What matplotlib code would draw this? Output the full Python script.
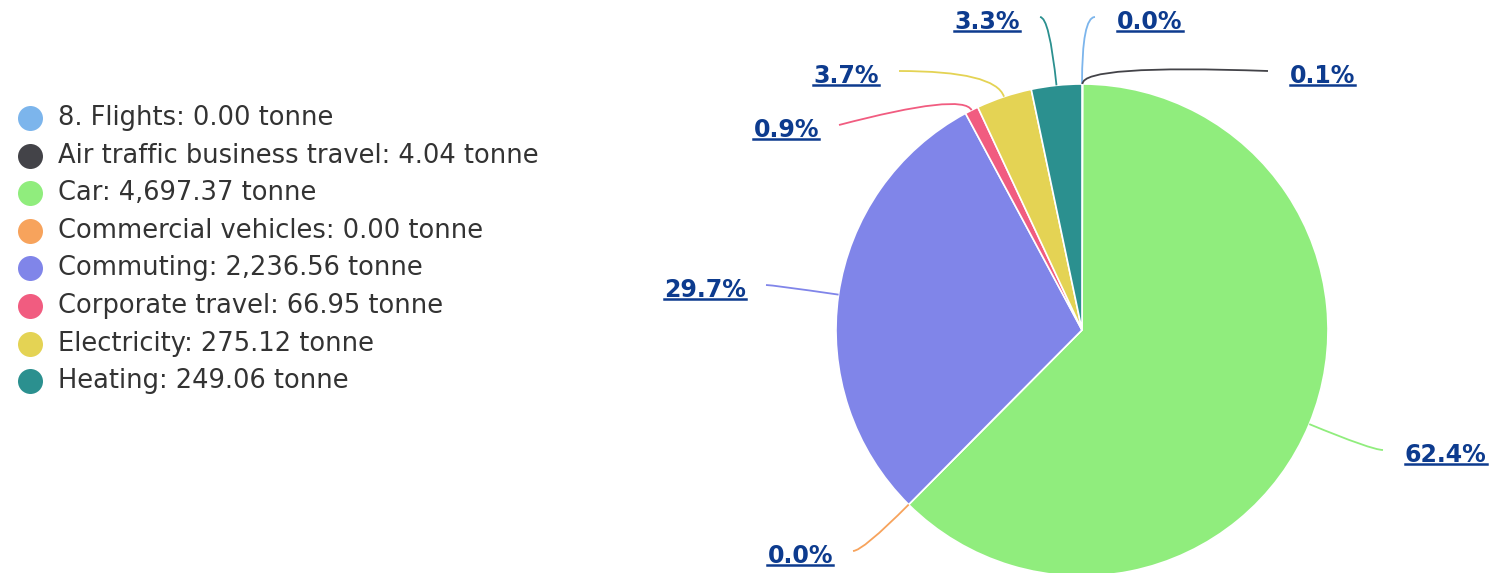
import matplotlib
matplotlib.use('Agg')
import matplotlib.pyplot as plt
import numpy as np
from matplotlib.path import Path
from matplotlib.patches import PathPatch
from matplotlib.lines import Line2D

plt.rcParams['font.family'] = 'DejaVu Sans'

# Data (tonne)
categories = ['8. Flights', 'Air traffic business travel', 'Car', 'Commercial vehicles',
              'Commuting', 'Corporate travel', 'Electricity', 'Heating']
values = [0.00, 4.04, 4697.37, 0.00, 2236.56, 66.95, 275.12, 249.06]
colors = ['#7cb5ec', '#434348', '#90ed7d', '#f7a35c',
          '#8085e9', '#f15c80', '#e4d354', '#2b908f']

# label layout in pixels: (text x, text y, alignment)
label_pos = [(1117, 22, 'left'), (1290, 76, 'left'), (1405, 455, 'left'),
             (833, 556, 'right'), (746, 290, 'right'), (819, 130, 'right'),
             (879, 76, 'right'), (1020, 22, 'right')]

W, H = 1493, 573
cx, cy, R = 1082, 330, 246
label_color = '#0d3b8e'


def px(x, y):
    return (x - cx) / R, (cy - y) / R


fig = plt.figure(figsize=(W / 100, H / 100), dpi=100)
ax = fig.add_axes([0, 0, 1, 1])

wedges, _ = ax.pie(values, colors=colors, startangle=90, counterclock=False,
                   radius=1, center=(0, 0),
                   wedgeprops=dict(edgecolor='white', linewidth=1.2))
ax.set_xlim(-cx / R, (W - cx) / R)
ax.set_ylim(-(H - cy) / R, cy / R)
ax.axis('off')

total = sum(values)
texts = []
for w, v, col, (tx, ty, ha) in zip(wedges, values, colors, label_pos):
    mid = np.deg2rad((w.theta1 + w.theta2) / 2)
    dx, dy = np.cos(mid), np.sin(mid)
    anchor = (dx, dy)
    gap = -22 if ha == 'left' else 20
    ex, ey = px(tx + gap, ty - 5)
    r = ey / dy if abs(dy) > 1e-3 else 1.2
    r = min(max(r, 1.08), 1.35)
    if abs(r * dx) > abs(ex) and abs(dx) > 1e-3:
        r = max(ex / dx, 1.02)
    ctrl = (r * dx, r * dy)
    path = Path([anchor, ctrl, (ex, ey)], [Path.MOVETO, Path.CURVE3, Path.CURVE3])
    ax.add_patch(PathPatch(path, fill=False, edgecolor=col, lw=1.3))
    t = ax.text(*px(tx, ty), f'{v / total * 100:.1f}%', ha=ha, va='center',
                fontsize=17, fontweight='bold', color=label_color)
    texts.append(t)

# underline the percentage labels
fig.canvas.draw()
renderer = fig.canvas.get_renderer()
inv = ax.transData.inverted()
for t in texts:
    bb = t.get_window_extent(renderer)
    y = bb.y0 + 0.13 * bb.height
    (x0, y0), (x1, _) = inv.transform([(bb.x0, y), (bb.x1, y)])
    ax.add_line(Line2D([x0, x1], [y0, y0], color=label_color, lw=1.8))

# legend
for i, (name, v, col) in enumerate(zip(categories, values, colors)):
    ly = 118 + i * 37.6
    ax.plot(*px(30, ly), marker='o', markersize=18, color=col, markeredgewidth=0)
    ax.text(*px(58, ly), f'{name}: {v:,.2f} tonne', ha='left', va='center',
            fontsize=18.5, color='#333333')

plt.savefig('out.png', dpi=100)
